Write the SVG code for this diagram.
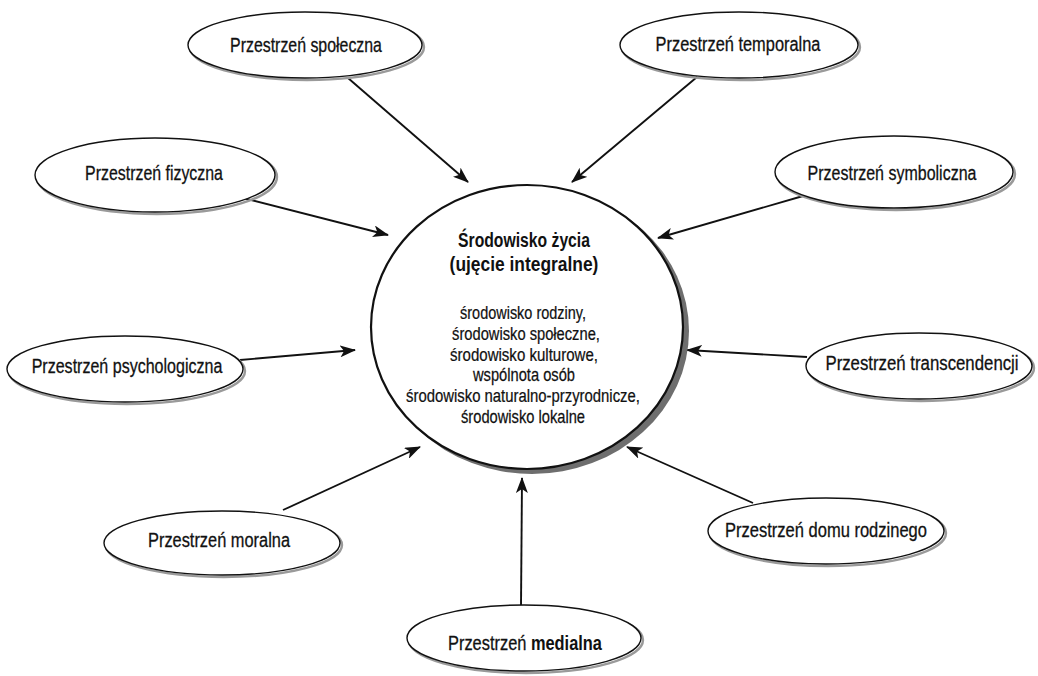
<svg xmlns="http://www.w3.org/2000/svg" width="1038" height="676" viewBox="0 0 1038 676">
<style>
  .bg { fill: #ffffff; }
  .sat { fill: #ffffff; stroke: #111111; stroke-width: 1.4; }
  .satsh { fill: none; stroke: #9a9a9a; stroke-width: 2.4; }
  .ctr { fill: #ffffff; stroke: #111111; stroke-width: 2.2; }
  .ctrsh { fill: #6e6e6e; }
  .lbl { font-family: "Liberation Sans", Arial, sans-serif; font-size: 21px; fill: #111111; stroke: #111111; stroke-width: 0.3; text-anchor: middle; }
  .body { font-family: "Liberation Sans", Arial, sans-serif; font-size: 19px; fill: #111111; stroke: #111111; stroke-width: 0.25; text-anchor: middle; }
  .head { font-family: "Liberation Sans", Arial, sans-serif; font-size: 21px; font-weight: bold; fill: #111111; text-anchor: middle; }
  .b { font-weight: bold; stroke-width: 0; }
  .con { stroke: #111111; stroke-width: 1.9; fill: none; marker-end: url(#ah); }
</style>
<defs>
  <marker id="ah" viewBox="0 0 16 12" refX="15" refY="6" markerWidth="16" markerHeight="12" markerUnits="userSpaceOnUse" orient="auto">
    <path d="M0,0 L16,6 L0,12 L4,6 Z" fill="#111111"/>
  </marker>
</defs>
<rect class="bg" x="0" y="0" width="1038" height="676"/>

<g id="connectors">
  <line class="con" x1="348" y1="78" x2="468" y2="182"/>
  <line class="con" x1="697" y1="77" x2="572" y2="182"/>
  <line class="con" x1="243" y1="198" x2="388" y2="235"/>
  <line class="con" x1="803" y1="196" x2="658" y2="238"/>
  <line class="con" x1="240" y1="360" x2="355" y2="350"/>
  <line class="con" x1="807" y1="357" x2="687" y2="350"/>
  <line class="con" x1="283" y1="510" x2="420" y2="447"/>
  <line class="con" x1="753" y1="503" x2="627" y2="447"/>
  <line class="con" x1="521" y1="607" x2="522" y2="478"/>
</g>

<g id="center">
  <ellipse class="ctrsh" cx="532" cy="331" rx="157" ry="143"/>
  <ellipse class="ctr" cx="527" cy="327" rx="156" ry="142"/>
  <text class="head" transform="translate(524,247) scale(0.749,1)">Środowisko życia</text>
  <text class="head" transform="translate(524,271) scale(0.829,1)">(ujęcie integralne)</text>
  <text class="body" transform="translate(523,319) scale(0.761,1)">środowisko rodziny,</text>
  <text class="body" transform="translate(526,340) scale(0.774,1)">środowisko społeczne,</text>
  <text class="body" transform="translate(524,361) scale(0.792,1)">środowisko kulturowe,</text>
  <text class="body" transform="translate(524,381) scale(0.773,1)">wspólnota osób</text>
  <text class="body" transform="translate(523,402) scale(0.783,1)">środowisko naturalno-przyrodnicze,</text>
  <text class="body" transform="translate(523,423) scale(0.773,1)">środowisko lokalne</text>
</g>

<g id="n-spoleczna">
  <ellipse class="satsh" cx="307" cy="47" rx="117" ry="33"/>
  <ellipse class="sat" cx="305" cy="45" rx="117" ry="33"/>
  <text class="lbl" transform="translate(306,52) scale(0.757,1)">Przestrzeń społeczna</text>
</g>
<g id="n-temporalna">
  <ellipse class="satsh" cx="741" cy="47" rx="119" ry="33"/>
  <ellipse class="sat" cx="739" cy="45" rx="119" ry="33"/>
  <text class="lbl" transform="translate(738,51) scale(0.781,1)">Przestrzeń temporalna</text>
</g>
<g id="n-fizyczna">
  <ellipse class="satsh" cx="157" cy="177" rx="120" ry="37"/>
  <ellipse class="sat" cx="155" cy="175" rx="120" ry="37"/>
  <text class="lbl" transform="translate(154,180) scale(0.758,1)">Przestrzeń fizyczna</text>
</g>
<g id="n-symboliczna">
  <ellipse class="satsh" cx="896" cy="174" rx="119" ry="36"/>
  <ellipse class="sat" cx="894" cy="172" rx="119" ry="36"/>
  <text class="lbl" transform="translate(892,180) scale(0.762,1)">Przestrzeń symboliczna</text>
</g>
<g id="n-psychologiczna">
  <ellipse class="satsh" cx="127" cy="371" rx="118" ry="33"/>
  <ellipse class="sat" cx="125" cy="369" rx="118" ry="33"/>
  <text class="lbl" transform="translate(127,373) scale(0.764,1)">Przestrzeń psychologiczna</text>
</g>
<g id="n-transcendencji">
  <ellipse class="satsh" cx="921" cy="368" rx="113" ry="33"/>
  <ellipse class="sat" cx="919" cy="366" rx="113" ry="33"/>
  <text class="lbl" transform="translate(922,370) scale(0.8,1)">Przestrzeń transcendencji</text>
</g>
<g id="n-moralna">
  <ellipse class="satsh" cx="224" cy="545" rx="118" ry="32"/>
  <ellipse class="sat" cx="222" cy="543" rx="118" ry="32"/>
  <text class="lbl" transform="translate(219,547) scale(0.78,1)">Przestrzeń moralna</text>
</g>
<g id="n-domu">
  <ellipse class="satsh" cx="828" cy="533" rx="118" ry="33"/>
  <ellipse class="sat" cx="826" cy="531" rx="118" ry="33"/>
  <text class="lbl" transform="translate(826,537) scale(0.787,1)">Przestrzeń domu rodzinego</text>
</g>
<g id="n-medialna">
  <ellipse class="satsh" cx="526" cy="640" rx="117" ry="33"/>
  <ellipse class="sat" cx="524" cy="638" rx="117" ry="33"/>
  <text class="lbl" transform="translate(525,650) scale(0.781,1)">Przestrzeń <tspan class="b">medialna</tspan></text>
</g>
</svg>
